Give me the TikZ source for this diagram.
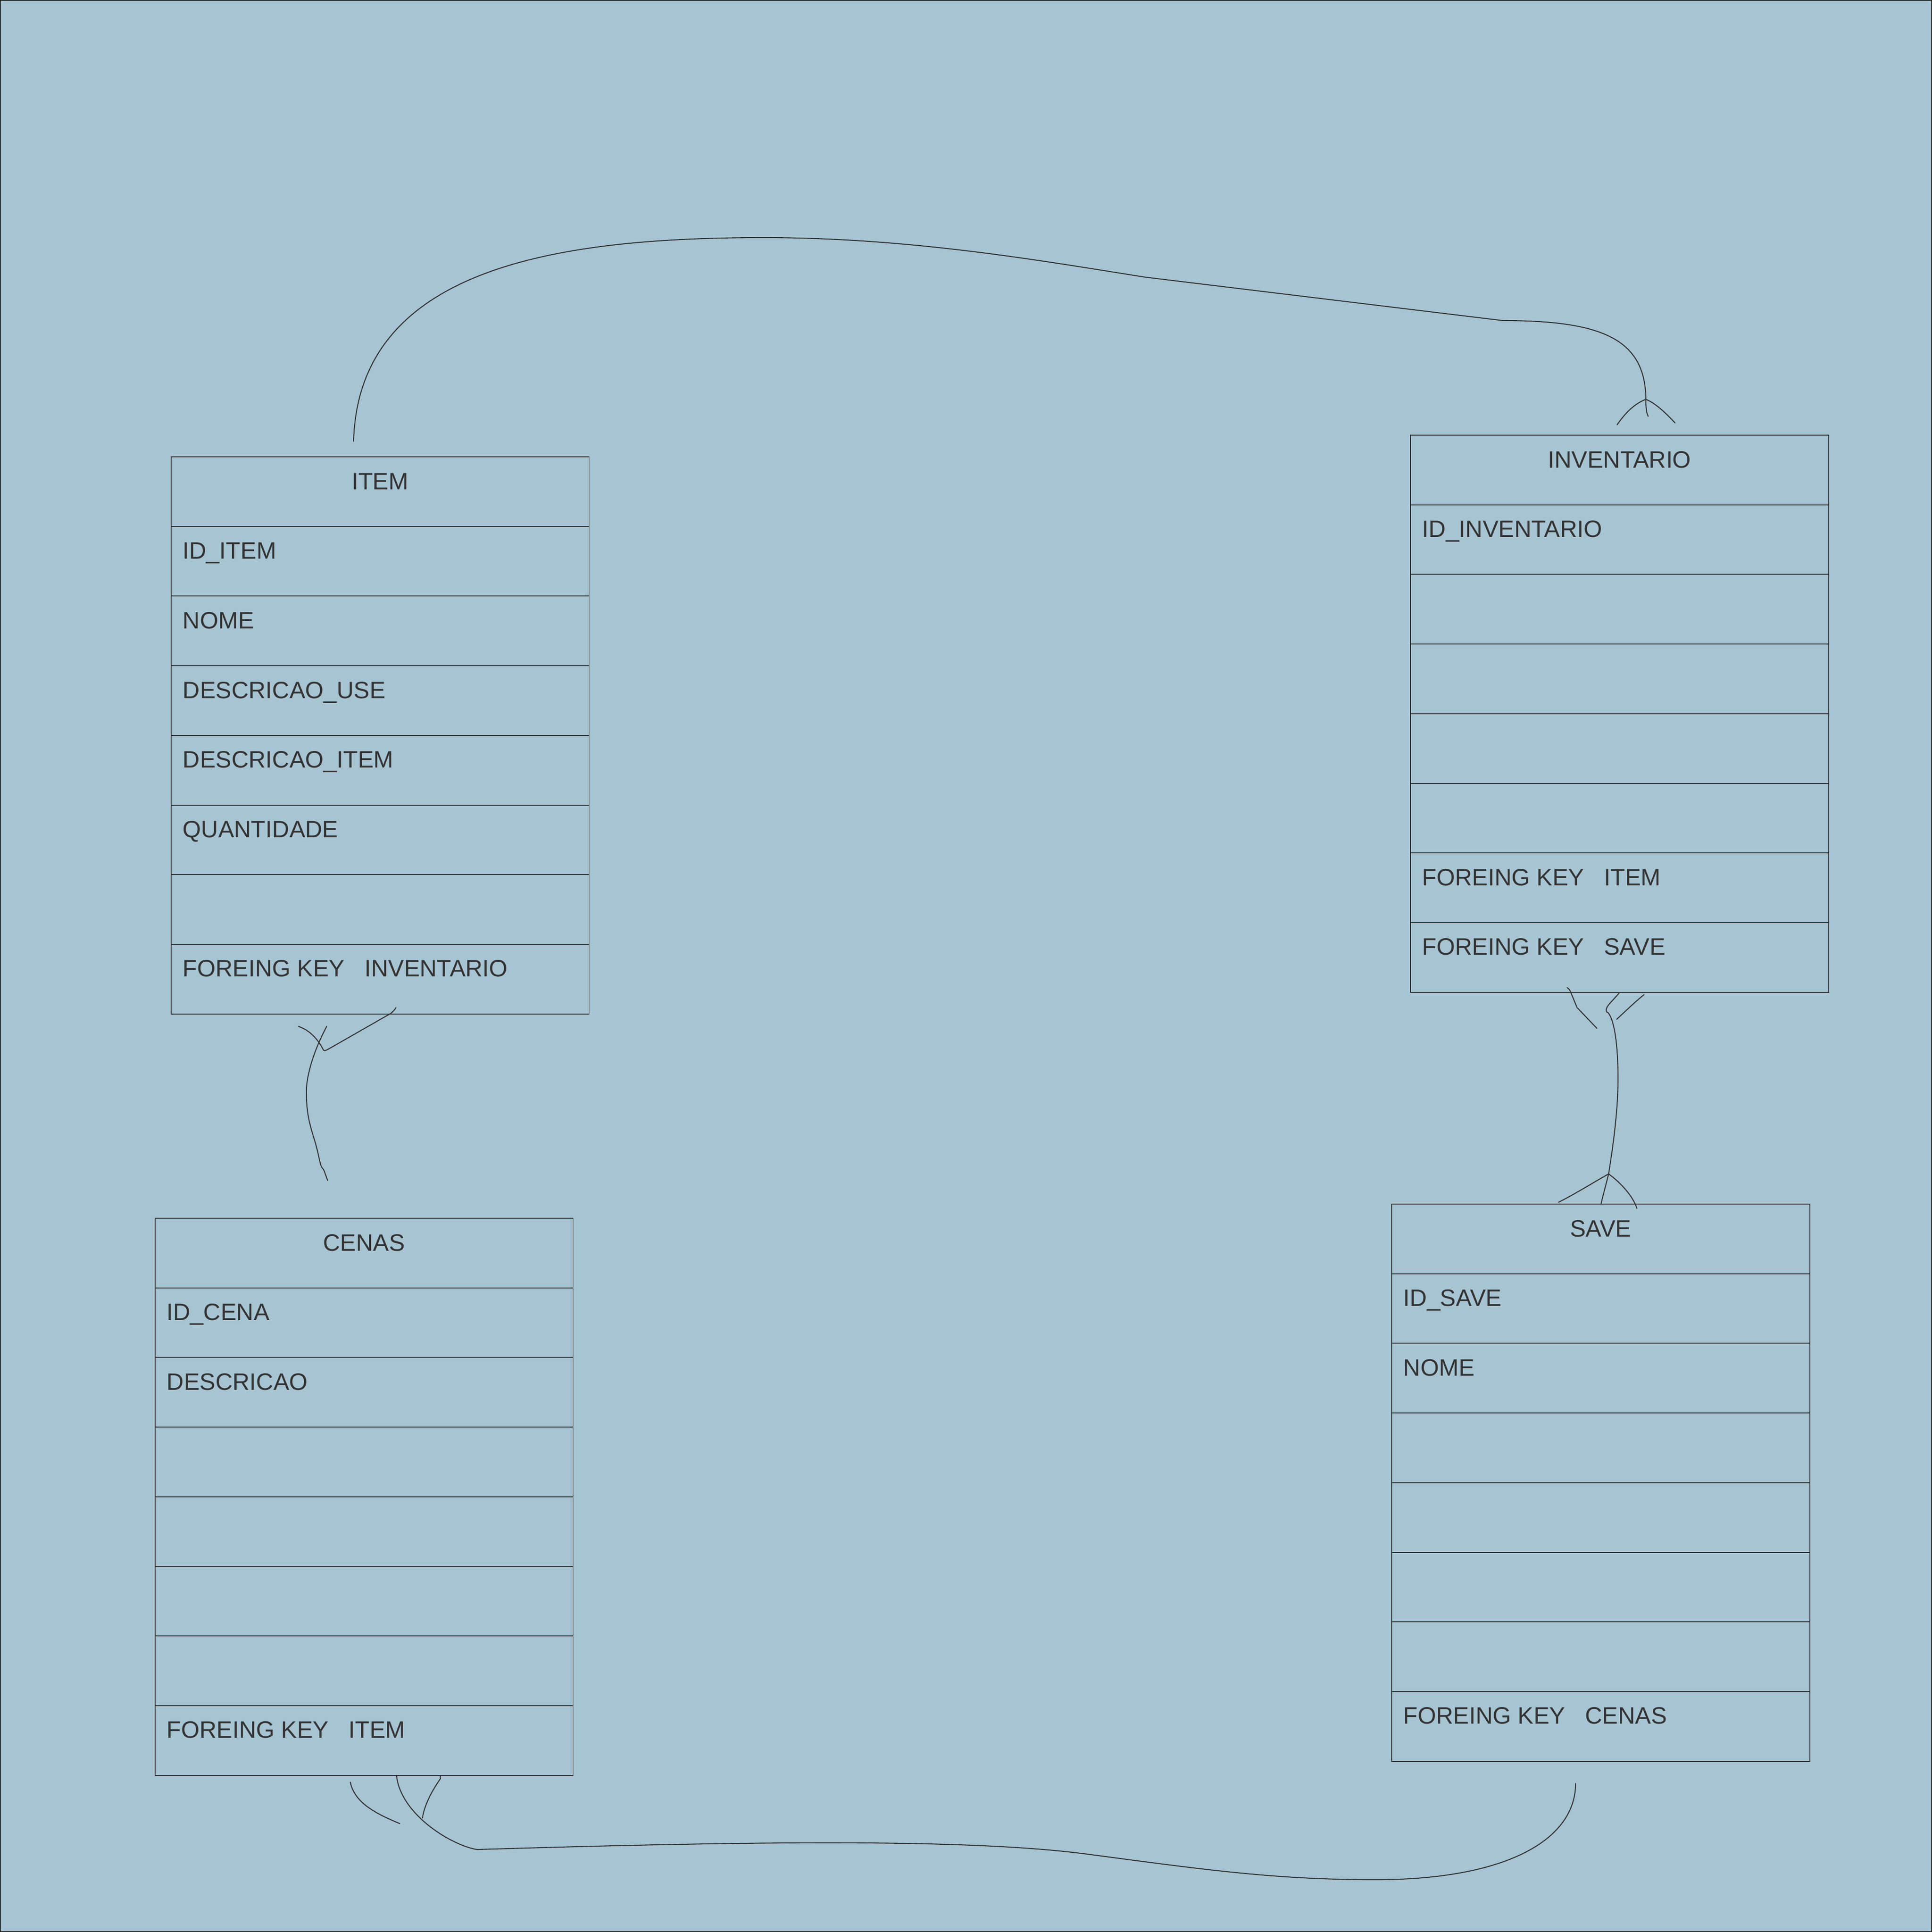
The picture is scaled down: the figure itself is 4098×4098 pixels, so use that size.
\documentclass[tikz,border=0pt]{standalone}
\usepackage{fontspec}
\setmainfont{Liberation Sans}
\usetikzlibrary{positioning,calc}
\definecolor{bgblue}{RGB}{167,196,210}
\definecolor{linegray}{RGB}{51,51,51}
\newcommand{\erdfont}{\fontsize{14.3pt}{17pt}\selectfont}

\tikzset{
  erdrow/.style={draw=linegray, line width=0.55pt, minimum width=8.86cm, minimum height=1.477cm,
    inner sep=0pt, outer sep=0pt, anchor=north west},
  erdfield/.style={text=linegray, font=\erdfont, inner sep=0pt, anchor=base west},
  erdtitle/.style={text=linegray, font=\erdfont, inner sep=0pt, anchor=base},
  relation/.style={draw=linegray, line width=0.6pt, line cap=round, line join=round},
}

% table: name, left, top, title, fields (row/text)
\newcommand{\erdtable}[5]{%
  \foreach \r in {1,...,8}
    \node[erdrow] (#1-\r) at (#2,{#3+(\r-1)*147.7}) {};
  \node[erdtitle] (#1-title) at ($(#1-1.north)+(0,69)$) {#4};
  \foreach \r/\fld in {#5}
    \node[erdfield] (#1-text-\r) at ($(#1-\r.north west)+(24,69)$) {\fld};
}

\begin{document}
\begin{tikzpicture}[x=0.01cm, y=-0.01cm]
    \useasboundingbox (0,0) rectangle (4098,4098);
    \fill[bgblue] (0,0) rectangle (4098,4098);
    \draw[linegray, line width=0.02cm] (1,1) rectangle (4097,4097);

    \erdtable{item}{363}{969}{ITEM}{2/ID\_ITEM, 3/NOME, 4/DESCRICAO\_USE, 5/DESCRICAO\_ITEM,
      6/QUANTIDADE, 8/FOREING KEY\ \ \ INVENTARIO}
    \erdtable{inventario}{2992}{923}{INVENTARIO}{2/ID\_INVENTARIO, 7/FOREING KEY\ \ \ ITEM,
      8/FOREING KEY\ \ \ SAVE}
    \erdtable{cenas}{329}{2584}{CENAS}{2/ID\_CENA, 3/DESCRICAO, 8/FOREING KEY\ \ \ ITEM}
    \erdtable{save}{2952}{2554}{SAVE}{2/ID\_SAVE, 3/NOME, 8/FOREING KEY\ \ \ CENAS}

    % item -- inventario
    \coordinate (item-top) at (750,936);
    \coordinate (inv-foot) at (3491,847);
    \draw[relation] (item-top) .. controls (760,570) and (1175,504) .. (1620,504)
      .. controls (1935,504) and (2220,555) .. (2430,588) -- (3188,680)
      .. controls (3400,680) and (3490,720) .. (inv-foot)
      .. controls (3491,865) and (3492,875) .. (3496,883);
    \draw[relation] (3430,901) .. controls (3450,872) and (3470,855) .. (inv-foot)
      .. controls (3512,855) and (3535,878) .. (3553,897);

    % item -- cenas
    \coordinate (item-bottom) at (840,2137);
    \coordinate (cenas-top) at (695,2504);
    \draw[relation] (item-bottom) .. controls (836,2144) and (832,2147) .. (828,2150) -- (697,2225)
      .. controls (690,2229) and (687,2229) .. (686,2227)
      .. controls (672,2200) and (655,2185) .. (633,2177);
    \draw[relation] (693,2177) .. controls (662,2235) and (648,2290) .. (650,2322)
      .. controls (650,2370) and (662,2400) .. (670,2428)
      .. controls (676,2450) and (679,2470) .. (682,2475) -- (687,2482) -- (cenas-top);

    % inventario -- save
    \coordinate (inv-bottom) at (3411,2148);
    \coordinate (save-foot) at (3412,2490);
    \draw[relation] (3324,2095) .. controls (3328,2097) and (3330,2100) .. (3331,2103)
      -- (3345,2137) -- (3387,2181);
    \draw[relation] (3434,2107) -- (3413,2130) .. controls (3405,2140) and (3405,2147) .. (inv-bottom)
      .. controls (3425,2165) and (3432,2220) .. (3432,2288)
      .. controls (3432,2360) and (3420,2440) .. (save-foot)
      .. controls (3406,2515) and (3400,2535) .. (3396,2554);
    \draw[relation] (3429,2162) .. controls (3450,2143) and (3468,2125) .. (3487,2110);
    \draw[relation] (3306,2550) .. controls (3340,2533) and (3380,2508) .. (save-foot)
      .. controls (3440,2510) and (3465,2540) .. (3472,2563);

    % cenas -- save
    \coordinate (cenas-bottom) at (841,3766);
    \coordinate (save-bottom) at (3342,3783);
    \draw[relation] (cenas-bottom) .. controls (850,3850) and (960,3915) .. (1012,3923)
      .. controls (1600,3905) and (2050,3900) .. (2300,3932)
      .. controls (2550,3965) and (2700,3987) .. (2917,3987)
      .. controls (3200,3987) and (3342,3900) .. (save-bottom);
    \draw[relation] (934,3766) -- (934,3773) .. controls (915,3800) and (900,3830) .. (896,3856);
    \draw[relation] (743,3780) .. controls (752,3825) and (800,3848) .. (848,3868);
\end{tikzpicture}
\end{document}
